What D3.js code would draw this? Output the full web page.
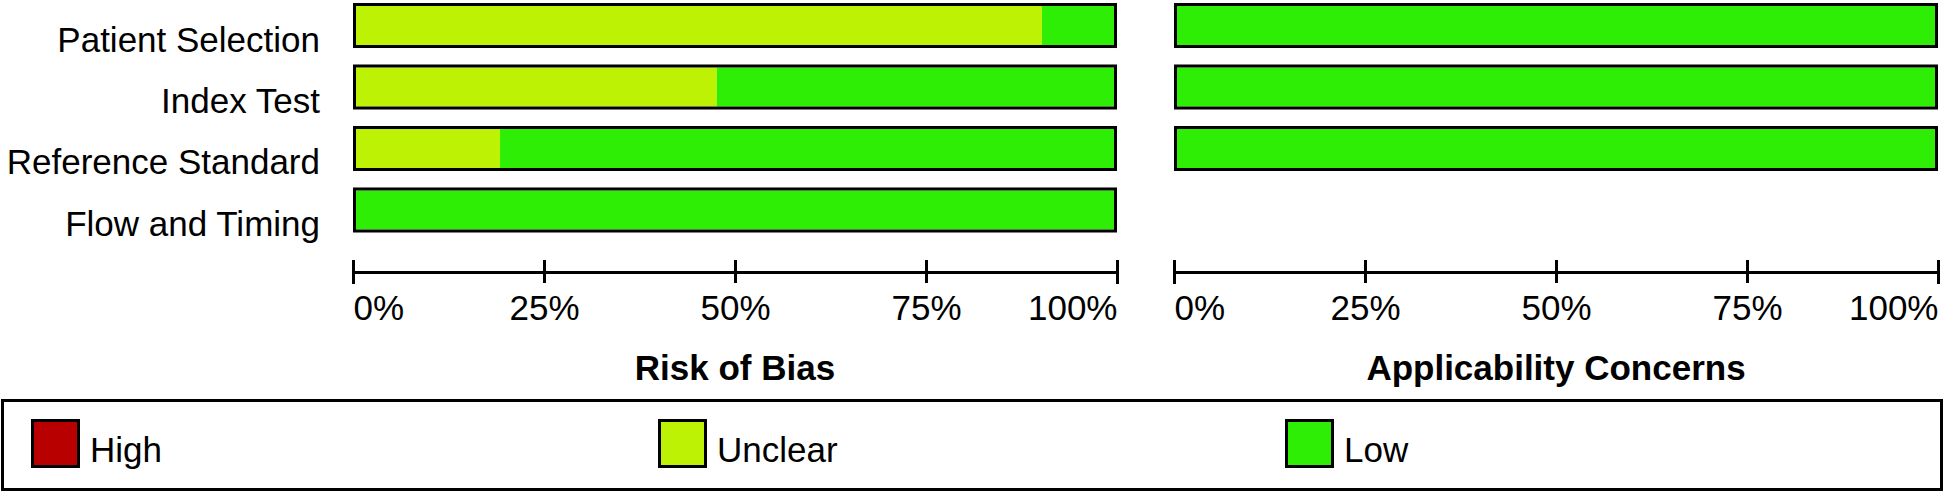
<!DOCTYPE html>
<html>
<head>
<meta charset="utf-8">
<script src="https://cdn.jsdelivr.net/npm/d3@7"></script>
<style>
  body { margin: 0; background: #fff; }
  svg { display: block; font-family: "Liberation Sans", Arial, sans-serif; }
</style>
</head>
<body>
<svg></svg>
<script>
// data (percent of studies)
let domains = ["Patient Selection", "Index Test", "Reference Standard", "Flow and Timing"];
let biasHigh = [0, 0, 0, 0];
let biasUnclear = [90.5, 47.6, 19.0, 0];
let biasLow = [9.5, 52.4, 81.0, 100];

let applicDomains = ["Patient Selection", "Index Test", "Reference Standard"];
let applicHigh = [0, 0, 0];
let applicUnclear = [0, 0, 0];
let applicLow = [100, 100, 100];

let tickValues = [0, 25, 50, 75, 100];
let legendLabels = ["High", "Unclear", "Low"];
let legendColors = ["#b80000", "#bef205", "#2eee05"];

let width = 1946;
let height = 494;
let axisY = 272;
let fontSize = 35;

let svg = d3.select("svg").attr("width", width).attr("height", height);

let yScale = d3
  .scaleBand()
  .domain(domains)
  .range([3, 232.5])
  .paddingInner(0.268)
  .paddingOuter(0);

let xLeft = d3.scaleLinear().domain([0, 100]).range([353, 1117]);
let xRight = d3.scaleLinear().domain([0, 100]).range([1174, 1938]);

let colorScale = d3.scaleOrdinal().domain(legendLabels).range(legendColors);

let buildRows = (names, high, unclear, low) => {
  return names.map((name, i) => {
    return { name: name, parts: [["High", high[i]], ["Unclear", unclear[i]], ["Low", low[i]]] };
  });
};

let drawBars = (rows, xScale, className) => {
  let g = svg.append("g").attr("class", className);
  let inner = d3.scaleLinear().domain([0, 100]).range([xScale(0) + 3, xScale(100) - 3]);

  let row = g
    .selectAll("g")
    .data(rows)
    .enter()
    .append("g")
    .attr("transform", (d) => "translate(0," + yScale(d.name) + ")");

  row
    .selectAll("rect.seg")
    .data((d) => {
      let start = 0;
      return d.parts.map((p) => {
        let s = { key: p[0], x0: start, x1: start + p[1] };
        start += p[1];
        return s;
      });
    })
    .enter()
    .filter((d) => d.x1 > d.x0)
    .append("rect")
    .attr("class", "seg")
    .attr("x", (d) => inner(d.x0))
    .attr("width", (d) => inner(d.x1) - inner(d.x0))
    .attr("y", 3)
    .attr("height", yScale.bandwidth() - 6)
    .attr("fill", (d) => colorScale(d.key));

  row
    .append("rect")
    .attr("x", xScale(0) + 1.5)
    .attr("width", xScale(100) - xScale(0) - 3)
    .attr("y", 1.5)
    .attr("height", yScale.bandwidth() - 3)
    .attr("fill", "none")
    .attr("stroke", "#000")
    .attr("stroke-width", 3);
};

let drawAxis = (xScale, title) => {
  let axis = d3
    .axisBottom(xScale)
    .tickValues(tickValues)
    .tickSizeOuter(0)
    .tickSize(12)
    .tickFormat((d) => d + "%");

  let g = svg
    .append("g")
    .attr("transform", "translate(0," + axisY + ")")
    .call(axis);

  g.select(".domain").attr("stroke", "#000").attr("stroke-width", 3);
  g.selectAll(".tick line").attr("stroke", "#000").attr("stroke-width", 3).attr("y1", -12).attr("y2", 11);
  g.selectAll(".tick text")
    .attr("fill", "#000")
    .attr("font-size", fontSize)
    .attr("font-family", "Liberation Sans, Arial, sans-serif")
    .attr("y", 48)
    .attr("dy", 0)
    .attr("text-anchor", (d, i) => (i === 0 ? "start" : i === tickValues.length - 1 ? "end" : "middle"));

  svg
    .append("text")
    .attr("x", (xScale(0) + xScale(100)) / 2)
    .attr("y", 380)
    .attr("text-anchor", "middle")
    .attr("font-size", fontSize)
    .attr("font-weight", "bold")
    .text(title);
};

let drawLabels = () => {
  svg
    .append("g")
    .selectAll("text")
    .data(domains)
    .enter()
    .append("text")
    .attr("x", 320)
    .attr("y", (d) => yScale(d) + yScale.bandwidth() / 2 + 26)
    .attr("text-anchor", "end")
    .attr("font-size", fontSize)
    .text((d) => d);
};

let drawLegend = () => {
  let g = svg.append("g");
  g.append("rect")
    .attr("x", 2.5)
    .attr("y", 400.5)
    .attr("width", 1939)
    .attr("height", 89)
    .attr("fill", "none")
    .attr("stroke", "#000")
    .attr("stroke-width", 3);

  let legendX = d3.scalePoint().domain(legendLabels).range([31, 1285]);

  let item = g
    .selectAll("g.item")
    .data(legendLabels)
    .enter()
    .append("g")
    .attr("class", "item")
    .attr("transform", (d) => "translate(" + legendX(d) + ",419)");

  item
    .append("rect")
    .attr("x", 1.5)
    .attr("y", 1.5)
    .attr("width", 46)
    .attr("height", 46)
    .attr("fill", (d) => colorScale(d))
    .attr("stroke", "#000")
    .attr("stroke-width", 3);

  item
    .append("text")
    .attr("x", 59)
    .attr("y", 43)
    .attr("font-size", fontSize)
    .text((d) => d);
};

drawBars(buildRows(domains, biasHigh, biasUnclear, biasLow), xLeft, "bias");
drawBars(buildRows(applicDomains, applicHigh, applicUnclear, applicLow), xRight, "applic");
drawLabels();
drawAxis(xLeft, "Risk of Bias");
drawAxis(xRight, "Applicability Concerns");
drawLegend();
</script>
</body>
</html>
